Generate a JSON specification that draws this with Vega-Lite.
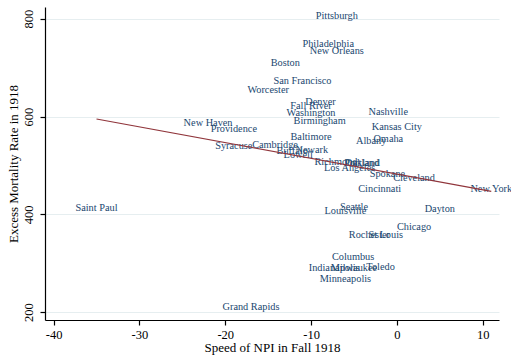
{
  "$schema": "https://vega.github.io/schema/vega-lite/v6.json",
  "width": 454,
  "height": 313,
  "autosize": {"type": "none"},
  "padding": {"left": 45, "top": 7, "right": 12, "bottom": 40},
  "background": "white",
  "config": {
    "view": {"stroke": null},
    "font": "Liberation Serif",
    "axis": {
      "domainColor": "#000000",
      "domainWidth": 1.2,
      "tickColor": "#000000",
      "tickWidth": 1.2,
      "tickSize": 5,
      "labelColor": "#000000",
      "titleColor": "#000000",
      "labelFont": "Liberation Serif",
      "titleFont": "Liberation Serif",
      "labelFontSize": 12.5,
      "titleFontSize": 13,
      "titleFontWeight": "normal",
      "gridColor": "#e6eef0",
      "gridWidth": 1
    }
  },
  "datasets": {
    "cities": [
      {"city": "Pittsburgh", "speed": -7, "mortality": 805},
      {"city": "Philadelphia", "speed": -8, "mortality": 749},
      {"city": "New Orleans", "speed": -7, "mortality": 734},
      {"city": "Boston", "speed": -13, "mortality": 710},
      {"city": "San Francisco", "speed": -11, "mortality": 673},
      {"city": "Worcester", "speed": -15, "mortality": 655},
      {"city": "Denver", "speed": -8.9, "mortality": 630},
      {"city": "Fall River", "speed": -10, "mortality": 621},
      {"city": "Washington", "speed": -10, "mortality": 607},
      {"city": "Birmingham", "speed": -9, "mortality": 591},
      {"city": "Nashville", "speed": -1, "mortality": 609},
      {"city": "Kansas City", "speed": 0, "mortality": 578},
      {"city": "Baltimore", "speed": -10, "mortality": 558},
      {"city": "Albany", "speed": -3, "mortality": 551},
      {"city": "Omaha", "speed": -1, "mortality": 554},
      {"city": "New Haven", "speed": -22, "mortality": 587},
      {"city": "Providence", "speed": -19, "mortality": 574},
      {"city": "Syracuse", "speed": -19, "mortality": 540},
      {"city": "Cambridge", "speed": -14.2, "mortality": 541},
      {"city": "Newark", "speed": -9.9, "mortality": 532},
      {"city": "Buffalo", "speed": -12.2, "mortality": 529},
      {"city": "Lowell", "speed": -11.5, "mortality": 521},
      {"city": "Richmond", "speed": -7.1, "mortality": 508},
      {"city": "Portland", "speed": -4.1, "mortality": 506},
      {"city": "Oakland", "speed": -4, "mortality": 506},
      {"city": "Los Angeles", "speed": -5.5, "mortality": 494},
      {"city": "Spokane", "speed": -1.1, "mortality": 482},
      {"city": "Cleveland", "speed": 2, "mortality": 474},
      {"city": "Cincinnati", "speed": -2, "mortality": 452},
      {"city": "New York", "speed": 11, "mortality": 452},
      {"city": "Seattle", "speed": -5, "mortality": 415},
      {"city": "Louisville", "speed": -6, "mortality": 406},
      {"city": "Dayton", "speed": 5, "mortality": 411},
      {"city": "Chicago", "speed": 2, "mortality": 374},
      {"city": "Rochester", "speed": -3.2, "mortality": 358},
      {"city": "St Louis", "speed": -1.3, "mortality": 358},
      {"city": "Columbus", "speed": -5.1, "mortality": 312},
      {"city": "Indianapolis", "speed": -7.3, "mortality": 291},
      {"city": "Milwaukee", "speed": -5, "mortality": 291},
      {"city": "Toledo", "speed": -1.9, "mortality": 293},
      {"city": "Minneapolis", "speed": -6, "mortality": 268},
      {"city": "Grand Rapids", "speed": -17, "mortality": 210},
      {"city": "Saint Paul", "speed": -35, "mortality": 413}
    ],
    "fit": [
      {"speed": -35, "mortality": 595},
      {"speed": 11, "mortality": 447}
    ]
  },
  "layer": [
    {
      "data": {"name": "cities"},
      "mark": {
        "type": "text",
        "font": "Liberation Serif",
        "fontSize": 10.3,
        "color": "#1a476f",
        "align": "center",
        "baseline": "middle"
      },
      "encoding": {
        "x": {
          "field": "speed",
          "type": "quantitative",
          "scale": {"domain": [-41, 11.9], "nice": false, "zero": false},
          "axis": {
            "title": "Speed of NPI in Fall 1918",
            "values": [-40, -30, -20, -10, 0, 10],
            "labelExpr": "'' + datum.value",
            "grid": false,
            "labelPadding": 3,
            "titlePadding": 1
          }
        },
        "y": {
          "field": "mortality",
          "type": "quantitative",
          "scale": {"domain": [184, 824], "nice": false, "zero": false},
          "axis": {
            "title": "Excess Mortality Rate in 1918",
            "values": [200, 400, 600, 800],
            "grid": true,
            "labelAngle": -90,
            "labelAlign": "center",
            "labelBaseline": "bottom",
            "labelPadding": 5,
            "titlePadding": 2
          }
        },
        "text": {"field": "city", "type": "nominal"}
      }
    },
    {
      "data": {"name": "fit"},
      "mark": {"type": "line", "color": "#90353b", "strokeWidth": 1.2},
      "encoding": {
        "x": {"field": "speed", "type": "quantitative"},
        "y": {"field": "mortality", "type": "quantitative"}
      }
    }
  ]
}
